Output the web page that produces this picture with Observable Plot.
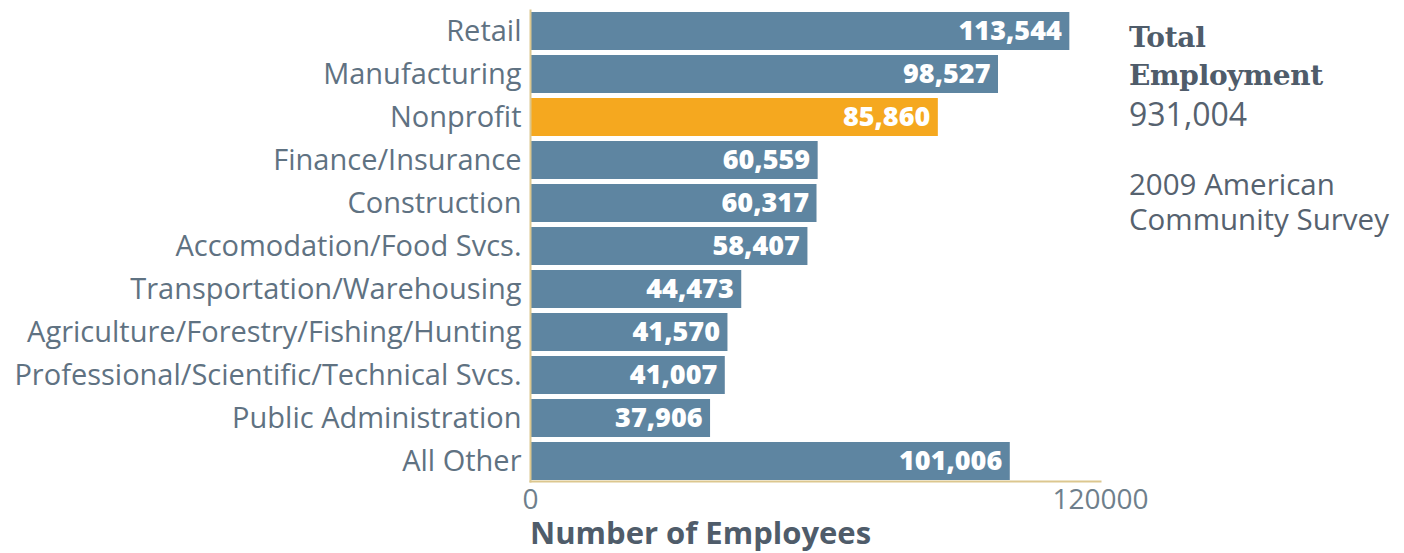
<!DOCTYPE html>
<html>
<head>
<meta charset="utf-8">
<script src="https://cdn.jsdelivr.net/npm/d3@7"></script>
<script src="https://cdn.jsdelivr.net/npm/@observablehq/plot@0.6"></script>
<style>
  body { margin: 0; background: #fff; font-family: "Open Sans", sans-serif; }
  #wrap { position: relative; width: 1404px; height: 553px; }
  #side { position: absolute; left: 1129px; top: 19px; color: #4f5c6a; }
  #side .t { font-family: "DejaVu Serif", serif; font-weight: bold; font-size: 28px; line-height: 38px; letter-spacing: -0.3px; }
  #side .v { font-size: 32px; line-height: 38px; color: #56626f; }
  #side .s { font-size: 29.5px; line-height: 35px; color: #56626f; margin-top: 33px; }
  #axlabel { position: absolute; left: 530px; top: 511px; font-size: 31px; font-weight: bold; color: #4f5c6a; }
</style>
</head>
<body>
<div id="wrap">
  <div id="chart"></div>
  <div id="side">
    <div class="t">Total<br>Employment</div>
    <div class="v">931,004</div>
    <div class="s">2009 American<br>Community Survey</div>
  </div>
  <div id="axlabel">Number of Employees</div>
</div>
<script>
const industries = ["Retail", "Manufacturing", "Nonprofit", "Finance/Insurance", "Construction",
  "Accomodation/Food Svcs.", "Transportation/Warehousing", "Agriculture/Forestry/Fishing/Hunting",
  "Professional/Scientific/Technical Svcs.", "Public Administration", "All Other"];
const employees = [113544, 98527, 85860, 60559, 60317, 58407, 44473, 41570, 41007, 37906, 101006];
const highlight = "Nonprofit";
const xTicks = [0, 120000];

const data = industries.map((name, i) => ({name, value: employees[i]}));
const fmt = d3.format(",");

const chart = Plot.plot({
  width: 1404,
  height: 553,
  marginLeft: 530,
  marginRight: 304,
  marginTop: 10,
  marginBottom: 72,
  style: {fontFamily: "Open Sans, sans-serif", background: "#fff"},
  x: {domain: [0, 120000], ticks: xTicks, tickFormat: d => String(d), tickSize: 0, label: null},
  y: {domain: industries, paddingInner: 0.12, paddingOuter: 0.02, tickSize: 0, label: null},
  marks: [
    Plot.barX(data, {y: "name", x: "value", fill: d => d.name === highlight ? "#f5a81f" : "#5e85a1"}),
    Plot.text(data, {y: "name", x: "value", text: d => fmt(d.value), textAnchor: "end", dx: -8,
      fill: "white", fontSize: 27, fontWeight: 800, fontFamily: "Open Sans, sans-serif"}),
    Plot.frame({anchor: "bottom", stroke: "#dcc78f", strokeWidth: 2, strokeOpacity: 1}),
    Plot.frame({anchor: "left", stroke: "#dcc78f", strokeWidth: 2, strokeOpacity: 1}),
    Plot.axisY({tickSize: 0, tickPadding: 9, fontSize: 29, fill: "#5f7282", label: null}),
    Plot.axisX({ticks: xTicks, tickFormat: d => String(d), tickSize: 0, tickPadding: 8, fontSize: 28, fill: "#6f7f8c", label: null})
  ]
});
document.getElementById("chart").appendChild(chart);
</script>
</body>
</html>
